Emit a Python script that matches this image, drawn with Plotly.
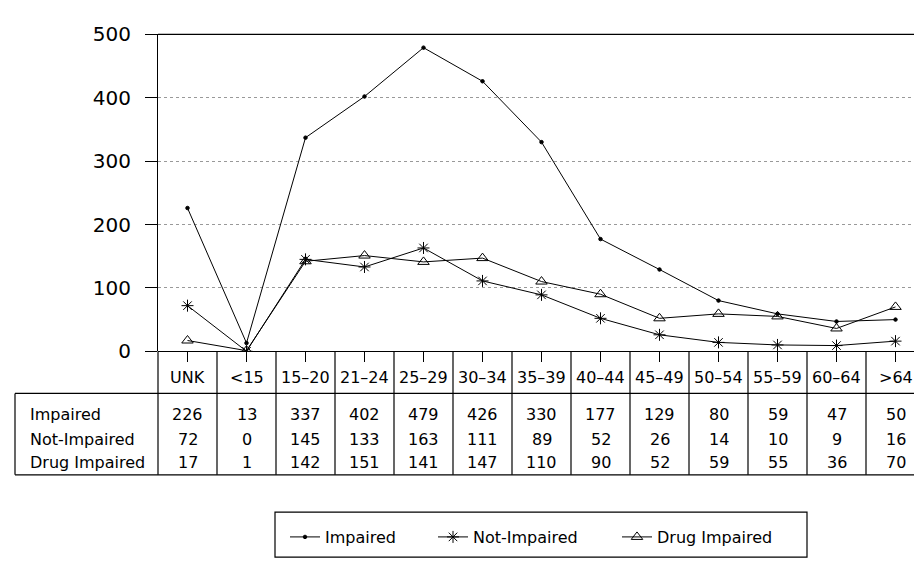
import plotly.graph_objects as go

categories = ["UNK", "<15", "15–20", "21–24", "25–29", "30–34", "35–39",
              "40–44", "45–49", "50–54", "55–59", "60–64", ">64"]
impaired = [226, 13, 337, 402, 479, 426, 330, 177, 129, 80, 59, 47, 50]
not_impaired = [72, 0, 145, 133, 163, 111, 89, 52, 26, 14, 10, 9, 16]
drug_impaired = [17, 1, 142, 151, 141, 147, 110, 90, 52, 59, 55, 36, 70]
series_names = ["Impaired", "Not-Impaired", "Drug Impaired"]
y_ticks = [0, 100, 200, 300, 400, 500]

W, H = 922, 564
FONT = "DejaVu Sans"

def px(x):
    return x / W

def py(y):
    return 1 - y / H

X0, X1 = 150, 917        # plot area left / right (px)
Y_TOP, Y_ZERO = 15, 346  # plot area top / zero line (px)
T_TOP, T_BOT = 390, 475  # table box
LBL_L = 7
HDR_Y = 373
ROW_Y = [412, 438, 462]
LEG_TOP, LEG_BOT, LEG_Y = 514, 561, 540
LEG_X = [277, 425, 609]

xs = list(range(len(categories)))

fig = go.Figure()
styles = [
    dict(symbol="circle", size=3.5),
    dict(symbol="asterisk-open", size=10),
    dict(symbol="triangle-up-open", size=10),
]
for k, (name, vals) in enumerate(zip(series_names, [impaired, not_impaired, drug_impaired])):
    fig.add_trace(go.Scatter(
        x=xs, y=vals, name=name, mode="lines+markers",
        legend="legend" if k == 0 else f"legend{k + 1}",
        line=dict(color="black", width=1),
        marker=dict(symbol=styles[k]["symbol"], size=styles[k]["size"], color="black",
                    line=dict(color="black", width=1))))

shapes = []
line_k = dict(color="black", width=1.2)
# top border (solid)
shapes.append(dict(type="line", xref="paper", yref="paper", x0=px(X0), x1=px(X1),
                   y0=py(Y_TOP), y1=py(Y_TOP), line=line_k))
# right border (dotted in plot area, solid in table)
shapes.append(dict(type="line", xref="paper", yref="paper", x0=px(X1), x1=px(X1),
                   y0=py(Y_TOP), y1=py(Y_ZERO), line=dict(color="black", width=1, dash="dot")))
shapes.append(dict(type="line", xref="paper", yref="paper", x0=px(X1), x1=px(X1),
                   y0=py(Y_ZERO), y1=py(T_BOT), line=line_k))
# left axis continuing into table
shapes.append(dict(type="line", xref="paper", yref="paper", x0=px(X0), x1=px(X0),
                   y0=py(Y_ZERO), y1=py(T_BOT), line=line_k))
# column separators
for i in range(len(categories) - 1):
    shapes.append(dict(type="line", xref="x", yref="paper", x0=i + 0.5, x1=i + 0.5,
                       y0=py(Y_ZERO), y1=py(T_BOT), line=line_k))
# table box
shapes.append(dict(type="line", xref="paper", yref="paper", x0=px(LBL_L), x1=px(X1),
                   y0=py(T_TOP), y1=py(T_TOP), line=line_k))
shapes.append(dict(type="line", xref="paper", yref="paper", x0=px(LBL_L), x1=px(X1),
                   y0=py(T_BOT), y1=py(T_BOT), line=line_k))
shapes.append(dict(type="line", xref="paper", yref="paper", x0=px(LBL_L), x1=px(LBL_L),
                   y0=py(T_TOP), y1=py(T_BOT), line=line_k))
# legend box
shapes.append(dict(type="rect", xref="paper", yref="paper", x0=px(267), x1=px(799),
                   y0=py(LEG_BOT), y1=py(LEG_TOP), line=line_k))

annotations = []
tfont = dict(family=FONT, size=16, color="black")
for i, c in enumerate(categories):
    annotations.append(dict(x=i, y=py(HDR_Y), xref="x", yref="paper", text=c,
                            showarrow=False, font=tfont, xanchor="center", yanchor="middle"))
for r, (name, vals) in enumerate(zip(series_names, [impaired, not_impaired, drug_impaired])):
    annotations.append(dict(x=px(20), y=py(ROW_Y[r]), xref="paper", yref="paper", text=name,
                            showarrow=False, font=tfont, xanchor="left", yanchor="middle"))
    for i, v in enumerate(vals):
        annotations.append(dict(x=i, y=py(ROW_Y[r]), xref="x", yref="paper", text=str(v),
                                showarrow=False, font=tfont, xanchor="center", yanchor="middle"))

def leg(xp):
    return dict(orientation="h", x=px(xp), y=py(LEG_Y), yanchor="middle", xanchor="left",
                font=dict(family=FONT, size=16, color="black"),
                bgcolor="rgba(0,0,0,0)", borderwidth=0)

fig.update_layout(
    width=W, height=H,
    margin=dict(l=0, r=0, t=0, b=0),
    paper_bgcolor="white", plot_bgcolor="white",
    font=dict(family=FONT, color="black"),
    xaxis=dict(domain=[px(X0), px(X1)], range=[-0.5, len(categories) - 0.5],
               tickvals=xs, ticktext=[""] * len(xs), ticks="outside", ticklen=10,
               tickcolor="black", tickwidth=1.2, showgrid=False, zeroline=False,
               showline=False, fixedrange=True),
    yaxis=dict(domain=[py(Y_ZERO), py(Y_TOP)], range=[0, 500], tickvals=y_ticks,
               ticks="outside", ticklen=12, tickcolor="black", tickwidth=1.2,
               tickfont=dict(family=FONT, size=20, color="black"),
               ticklabelstandoff=10,
               showline=True, linecolor="black", linewidth=1.2,
               showgrid=True, gridcolor="#999", gridwidth=1, griddash="dot",
               zeroline=True, zerolinecolor="black", zerolinewidth=1.2),
    showlegend=True,
    legend=leg(LEG_X[0]),
    legend2=leg(LEG_X[1]),
    legend3=leg(LEG_X[2]),
    shapes=shapes,
    annotations=annotations,
)

fig.write_html("out.html")
